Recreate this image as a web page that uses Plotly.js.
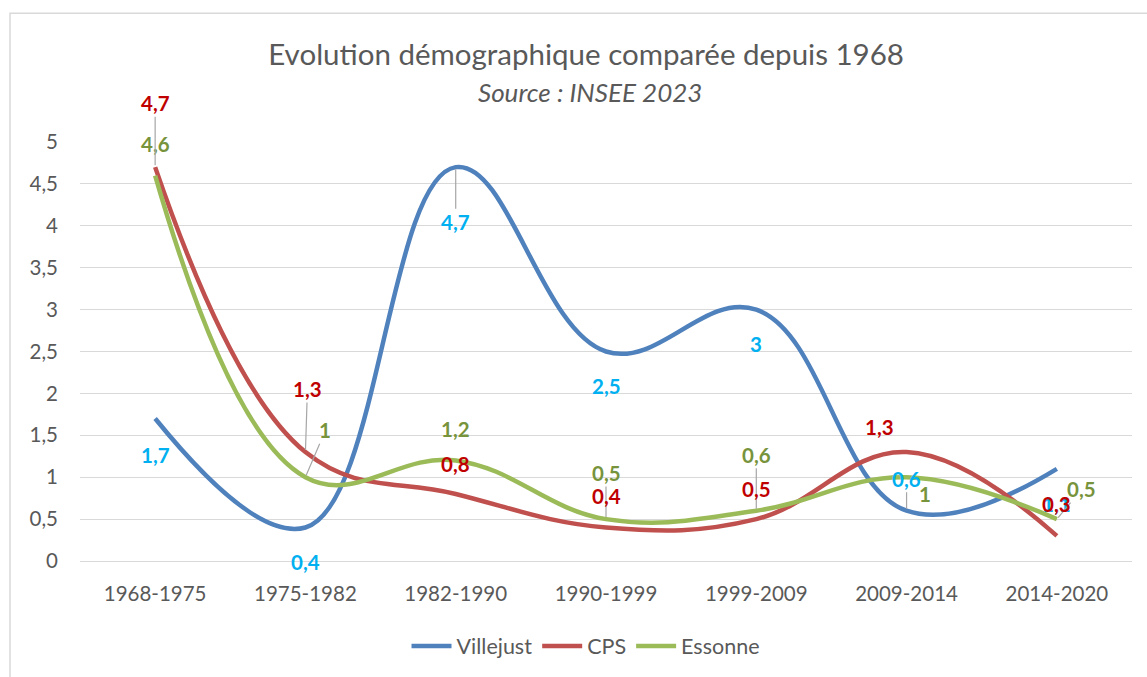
<!DOCTYPE html>
<html>
<head>
<meta charset="utf-8">
<script src="https://cdn.plot.ly/plotly-3.0.1.min.js"></script>
<style>html,body{margin:0;padding:0;background:#fff;}#chart{width:1147px;height:677px;}</style>
</head>
<body>
<div id="chart"></div>
<script>
var categories = ['1968-1975','1975-1982','1982-1990','1990-1999','1999-2009','2009-2014','2014-2020'];
var villejust = [1.7, 0.4, 4.7, 2.5, 3, 0.6, 1.1];
var cps = [4.7, 1.3, 0.8, 0.4, 0.5, 1.3, 0.3];
var essonne = [4.6, 1, 1.2, 0.5, 0.6, 1, 0.5];
var yTicks = [0, 0.5, 1, 1.5, 2, 2.5, 3, 3.5, 4, 4.5, 5];

var FONT = 'Lato, "Open Sans", sans-serif';
var GRAY = '#595959';

function trace(name, vals, color) {
  return {
    type: 'scatter', mode: 'lines', name: name,
    x: categories, y: vals,
    line: {color: color, width: 4.5, shape: 'spline', smoothing: 1.15},
    hoverinfo: 'skip'
  };
}

var data = [
  trace('Villejust', villejust, '#4F81BD'),
  trace('CPS', cps, '#C0504D'),
  trace('Essonne', essonne, '#9BBB59')
];

function fmt(v) { return String(v).replace('.', ','); }

// label placement per point: [dx, dy(screen, + down), leader]
var vPos = [[0,36,false],[0,35,false],[0,55,true],[0,34,false],[0,34,false],[0,-32,true],[0,35,false]];
var cPos = [[0,-64,true],[2,-63,true],[0,-30,false],[0,-31,false],[0,-30,false],[-27,-25,false],[0,-32,false]];
var ePos = [[0,-32,false],[20,-47,true],[0,-31,false],[0,-46,true],[0,-56,true],[18,17,false],[25,-30,true]];

var annotations = [];
function addLabels(vals, pos, color) {
  vals.forEach(function(v, i) {
    var p = pos[i];
    var a = {
      x: categories[i], y: v, xref: 'x', yref: 'y',
      text: '<b>' + fmt(v) + '</b>',
      font: {family: FONT, size: 20.5, color: color}
    };
    if (p[2]) {
      a.showarrow = true; a.arrowhead = 0; a.arrowwidth = 1.2; a.arrowcolor = '#A6A6A6';
      a.ax = p[0]; a.ay = p[1]; a.standoff = 2;
    } else {
      a.showarrow = false; a.xshift = p[0]; a.yshift = -p[1];
    }
    annotations.push(a);
  });
}
addLabels(villejust, vPos, '#00B0F0');
addLabels(essonne, ePos, '#77933C');
addLabels(cps, cPos, '#C00000');

annotations.push({
  xref: 'paper', yref: 'paper', x: 0.485, y: (562-92)/420,
  xanchor: 'center', yanchor: 'middle', showarrow: false,
  text: '<i>Source : INSEE 2023</i>',
  font: {family: FONT, size: 26, color: GRAY}
});

var layout = {
  width: 1147, height: 677,
  margin: {l: 80, r: 15, t: 142, b: 115},
  paper_bgcolor: '#fff', plot_bgcolor: '#fff',
  separators: ', ',
  font: {family: FONT, color: GRAY},
  title: {
    text: 'Evolution démographique comparée depuis 1968',
    font: {family: FONT, size: 29.5, color: GRAY},
    x: 0.511, xanchor: 'center', xref: 'container',
    y: 1 - 55/677, yanchor: 'middle', yref: 'container'
  },
  xaxis: {
    type: 'category', range: [-0.5, 6.5], showgrid: false, zeroline: false,
    showline: false, ticks: '', tickfont: {family: FONT, size: 20.5, color: GRAY},
    ticklabelstandoff: 18, fixedrange: true
  },
  yaxis: {
    range: [0, 5], tickvals: yTicks, showgrid: true, gridcolor: '#D9D9D9', gridwidth: 1,
    zeroline: true, zerolinecolor: '#D9D9D9', zerolinewidth: 1, showline: false, ticks: '',
    tickfont: {family: FONT, size: 20.5, color: GRAY}, ticklabelstandoff: 21, fixedrange: true
  },
  showlegend: true,
  legend: {
    orientation: 'h', x: 0.481, xanchor: 'center', y: -0.2, yanchor: 'middle',
    font: {family: FONT, size: 21.5, color: GRAY}, itemwidth: 40
  },
  annotations: annotations,
  shapes: [{
    type: 'rect', xref: 'paper', yref: 'paper',
    x0: -70/1052, x1: 1.02, y0: -0.3, y1: (562-13)/420,
    line: {color: '#D9D9D9', width: 1.5}, fillcolor: 'rgba(0,0,0,0)', layer: 'below'
  }]
};

Plotly.newPlot('chart', data, layout, {displayModeBar: false, staticPlot: true});
</script>
</body>
</html>
